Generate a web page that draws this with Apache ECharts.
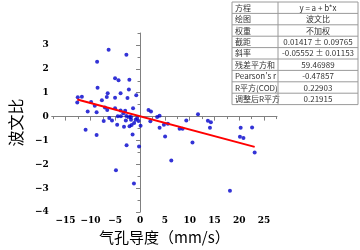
<!DOCTYPE html>
<html lang="zh-CN">
<head>
<meta charset="utf-8">
<title>波文比</title>
<script src="https://cdn.jsdelivr.net/npm/echarts@6/dist/echarts.min.js"></script>
<style>
  html, body { margin: 0; padding: 0; background: #fff; }
  #main { width: 360px; height: 250px; }
</style>
</head>
<body>
<div id="main"></div>
<script>
// 气孔导度 (mm/s)
const gs = [
  -6.33, -2.75, -8.65, -5.03, -4.33, -2.15, -8.56, -2.25, -6.52, -3.92,
  -0.76, -12.55, -11.72, -6.70, -5.03, -2.53, -7.69, -12.65, -9.86, -9.12,
  -7.08, -6.61, -5.03, -3.92, -2.99, -1.41, -10.55, -8.75, 1.71, 2.21,
  -6.20, -5.65, -7.32, -4.48, -3.86, -2.75, -2.15, -1.82, -2.86, 3.45,
  3.94, -0.89, 2.08, 9.32, 11.68, 13.67, 14.28, 14.09, -4.61, -3.23,
  -2.12, -1.69, 0.11, 3.94, 4.81, 5.61, 7.97, 8.58, -10.97, -8.75,
  -1.50, -2.71, -0.20, 5.05, 10.57, 20.13, 20.84, 20.28, 22.58, 23.10,
  6.30, -4.85, -1.23, 18.12, -0.58, -0.30, -3.36, -1.19, -1.82
];
// 波文比
const bowen = [
  2.80, 2.59, 2.30, 1.61, 1.52, 1.54, 1.21, 1.13, 0.98, 0.98,
  0.89, 0.81, 0.83, 0.82, 0.79, 0.78, 0.68, 0.59, 0.61, 0.45,
  0.38, 0.28, 0.35, 0.25, 0.24, 0.35, 0.21, 0.18, 0.28, 0.21,
  -0.06, -0.16, -0.19, 0.01, 0.01, 0.02, -0.02, -0.02, -0.16, -0.02,
  0.03, -0.13, -0.20, -0.16, 0.10, -0.17, -0.24, -0.47, -0.34, -0.43,
  -0.40, -0.35, -0.38, -0.47, -0.34, -0.30, -0.51, -0.51, -0.55, -0.77,
  -0.75, -1.20, -1.25, -0.83, -1.09, -0.84, -0.90, -0.47, -0.46, -1.50,
  -1.84, -2.25, -2.80, -3.11, -0.06, -0.18, 0.14, -0.27, -0.13
];

// 线性拟合结果
const intercept = 0.01417;
const slope = -0.05552;

const xTicks = [-15, -10, -5, 0, 5, 10, 15, 20, 25];
const xMinor = [-17.5, -12.5, -7.5, -2.5, 2.5, 7.5, 12.5, 17.5, 22.5, 27.5];
const yTicks = [-4, -3, -2, -1, 0, 1, 2, 3];
const yMinor = [-3.5, -2.5, -1.5, -0.5, 0.5, 1.5, 2.5, 3.5];

const tableKeys = ['方程', '绘图', '权重', '截距', '斜率', '残差平方和', "Pearson's r", 'R平方(COD)', '调整后R平方'];
const tableVals = ['y = a + b*x', '波文比', '不加权', '0.01417 ± 0.09765', '-0.05552 ± 0.01153',
  '59.46989', '-0.47857', '0.22903', '0.21915'];

const points = gs.map((x, i) => [x, bowen[i]]);
const xLo = Math.min(...gs), xHi = Math.max(...gs);
const fitLine = [[xLo, intercept + slope * xLo], [xHi, intercept + slope * xHi]];

const labelFont = { color: '#000', fontFamily: 'DejaVu Serif', fontWeight: 'bold', fontSize: 9 };
const minus = v => (v < 0 ? '\u2212' + (-v) : String(v));

// 表格
const tbl = { left: 232, top: 2, w: 126, col: 46, rowH: 11.4 };
const cells = [];
cells.push({
  type: 'rect', shape: { x: tbl.left, y: tbl.top, width: tbl.w, height: tbl.rowH * tableKeys.length },
  style: { fill: '#fff', stroke: '#9a9a9a', lineWidth: 1 }, silent: true
});
tableKeys.forEach((k, i) => {
  const y = tbl.top + i * tbl.rowH;
  if (i > 0) {
    cells.push({ type: 'line', shape: { x1: tbl.left, y1: y, x2: tbl.left + tbl.w, y2: y },
      style: { stroke: '#9a9a9a', lineWidth: 1 }, silent: true });
  }
  cells.push({ type: 'text', x: tbl.left + 3, y: y + tbl.rowH / 2,
    style: { text: k, fill: '#333', fontSize: 8, fontFamily: 'Noto Sans CJK SC', verticalAlign: 'middle' } });
  cells.push({ type: 'text', x: tbl.left + tbl.col + (tbl.w - tbl.col) / 2, y: y + tbl.rowH / 2,
    style: { text: tableVals[i], fill: '#333', fontSize: 8, fontFamily: 'Noto Sans CJK SC',
      align: 'center', verticalAlign: 'middle' } });
});
cells.push({ type: 'line', shape: { x1: tbl.left + tbl.col, y1: tbl.top, x2: tbl.left + tbl.col, y2: tbl.top + tbl.rowH * tableKeys.length },
  style: { stroke: '#9a9a9a', lineWidth: 1 }, silent: true });

const chart = echarts.init(document.getElementById('main'));
chart.setOption({
  animation: false,
  grid: { left: 32, right: 83, top: 33, bottom: 33 },
  xAxis: [{
    type: 'value', min: -17.8, max: 27.6,
    name: '气孔导度（mm/s）', nameLocation: 'middle', nameGap: 17,
    nameTextStyle: { color: '#000', fontSize: 15, fontFamily: 'Noto Sans CJK SC' },
    axisLine: { lineStyle: { color: '#808080' } },
    axisTick: { customValues: xTicks, length: 4, lineStyle: { color: '#808080' } },
    axisLabel: { customValues: xTicks, formatter: minus, margin: 4, ...labelFont },
    splitLine: { show: false }
  }, {
    type: 'value', min: -17.8, max: 27.6, position: 'bottom',
    axisLine: { show: false },
    axisTick: { customValues: xMinor, length: 2.5, lineStyle: { color: '#808080' } },
    axisLabel: { show: false }, splitLine: { show: false }
  }],
  yAxis: [{
    type: 'value', min: -4, max: 3.5,
    name: '波文比', nameLocation: 'middle', nameGap: 15,
    nameTextStyle: { color: '#000', fontSize: 16, fontFamily: 'Noto Sans CJK SC' },
    axisLine: { show: true, lineStyle: { color: '#808080' } },
    axisTick: { show: true, customValues: yTicks, length: 4, lineStyle: { color: '#808080' } },
    axisLabel: { customValues: yTicks, formatter: minus, margin: 3, ...labelFont },
    splitLine: { show: false }
  }, {
    type: 'value', min: -4, max: 3.5, position: 'left',
    axisLine: { show: false },
    axisTick: { show: true, customValues: yMinor, length: 2.5, lineStyle: { color: '#808080' } },
    axisLabel: { show: false }, splitLine: { show: false }
  }],
  series: [{
    type: 'scatter', data: points, symbolSize: 4,
    itemStyle: { color: '#0000cc' }
  }, {
    type: 'line', data: fitLine, symbol: 'none',
    lineStyle: { color: '#ff0000', width: 2 }
  }],
  graphic: cells
});
</script>
</body>
</html>
